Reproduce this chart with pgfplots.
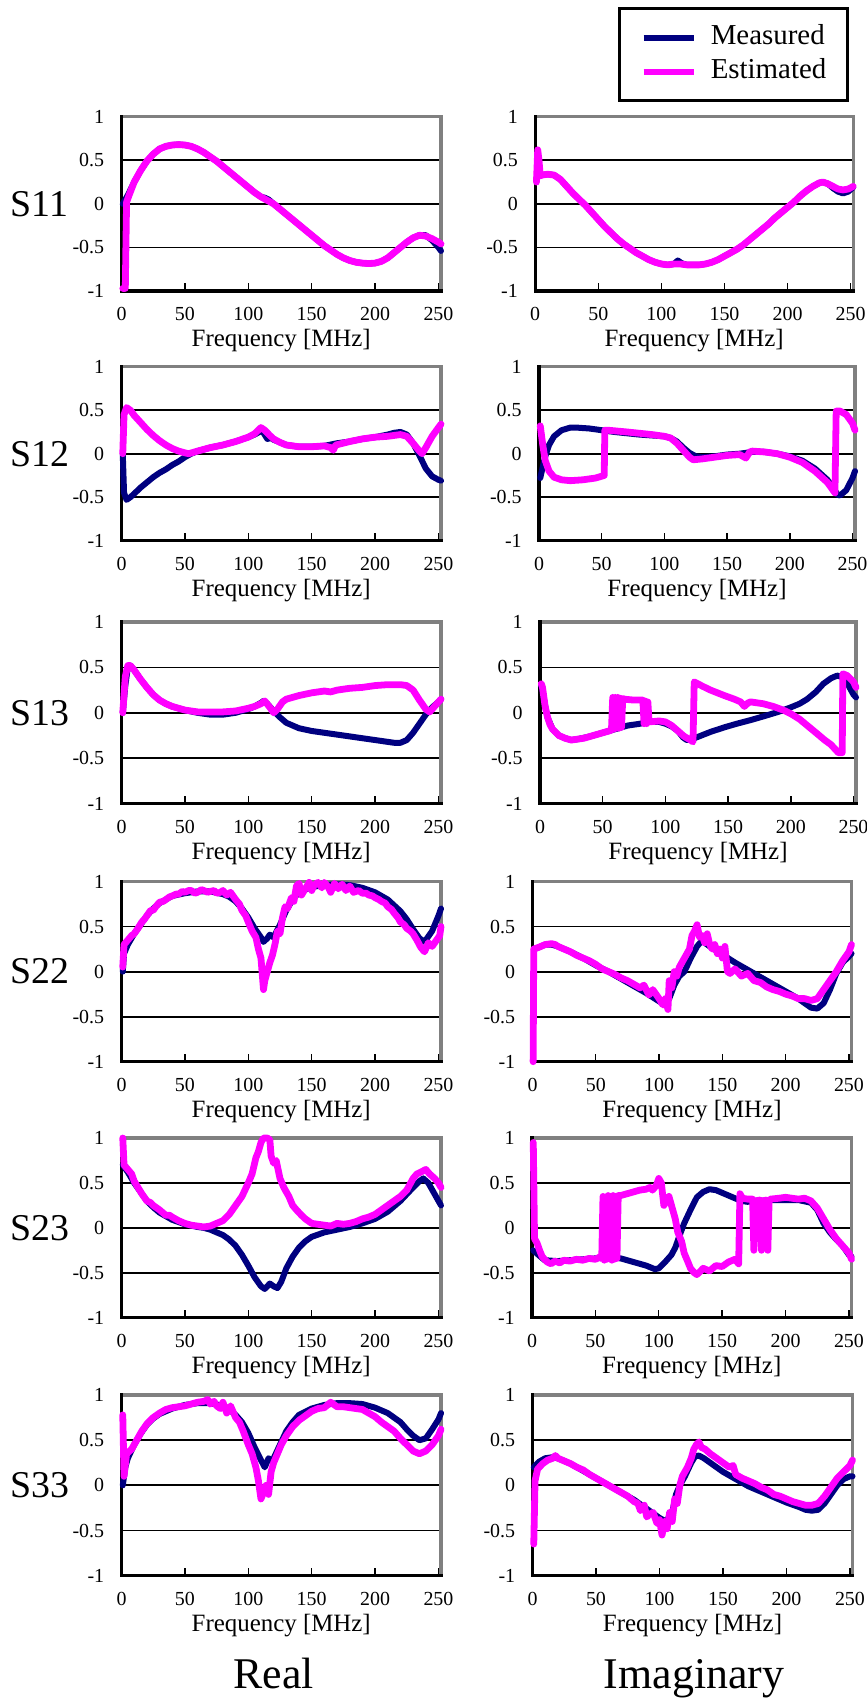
\documentclass[border=0pt]{standalone}
\usepackage{fontspec}
\setmainfont{Liberation Serif}
\usepackage{pgfplots}
\pgfplotsset{compat=1.18}
\definecolor{navy}{RGB}{0,0,128}
\definecolor{mag}{RGB}{255,0,255}
\definecolor{framegray}{RGB}{128,128,128}
\pgfplotsset{
 sp/.style={
  scale only axis, anchor=north west,
  xmin=0, xmax=252, ymin=-1, ymax=1,
  axis line style={draw=framegray, line width=1.7bp},
  xtick={0,50,100,150,200,250}, xticklabels={0,50,100,150,200,250},
  ytick={-1,-0.5,0,0.5,1}, yticklabels={-1,-0.5,0,0.5,1},
  xtick pos=left, ytick pos=left,
  tick align=inside, major tick length=4bp,
  xtick style={draw=black, line width=0.7bp},
  ytick style={draw=none},
  ymajorgrids, major grid style={black, line width=0.9bp},
  tick label style={font=\fontsize{10}{12}\selectfont},
  xticklabel style={anchor=north, inner sep=0pt, yshift=-8bp},
  yticklabel style={anchor=east, inner sep=0pt, xshift=-8.5bp},
  xlabel={Frequency [MHz]},
  xlabel style={font=\fontsize{12.5}{14}\selectfont, at={(axis description cs:0.5,0)}, anchor=north, inner sep=0pt, yshift=-19bp},
  clip=false,
 },
 meas/.style={navy, line width=3bp, line join=round, line cap=round, mark=none},
 est/.style={mag, line width=3.4bp, line join=round, line cap=round, mark=none},
}
\newcommand{\fr}{\draw[black, line width=1.7bp, line cap=rect] (rel axis cs:0,1) -- (rel axis cs:0,0) -- (rel axis cs:1,0);}
\newcommand{\rl}[1]{\node[font=\fontsize{19}{21}\selectfont, anchor=center, xshift=-41bp] at (rel axis cs:0,0.5) {#1};}
\begin{document}
\begin{tikzpicture}
\useasboundingbox (0,0) rectangle (433.5bp,-849.5bp);
%================ Row 1: S11
\begin{axis}[sp, at={(60.75bp,-58.35bp)}, width=159.75bp, height=87.15bp]
\fr \rl{S11}
\addplot[meas] coordinates {(1,0.0)(5,0.1)(10,0.25)(15,0.38)(20,0.49)(25,0.57)(30,0.63)(35,0.66)(40,0.675)(45,0.68)(50,0.675)(55,0.66)(60,0.63)(65,0.59)(70,0.54)(75,0.49)(80,0.43)(85,0.37)(90,0.31)(95,0.25)(100,0.19)(105,0.13)(110,0.08)(113,0.07)(116,0.05)(120,0.0)(125,-0.06)(130,-0.12)(135,-0.18)(140,-0.24)(145,-0.3)(150,-0.36)(155,-0.42)(160,-0.48)(165,-0.53)(170,-0.58)(175,-0.62)(180,-0.65)(185,-0.67)(190,-0.68)(195,-0.685)(200,-0.68)(205,-0.66)(210,-0.62)(215,-0.56)(220,-0.5)(225,-0.44)(230,-0.39)(235,-0.36)(240,-0.36)(245,-0.42)(250,-0.5)(252,-0.54)};
\addplot[est] coordinates {(1,-0.97)(3,-0.97)(4,0.02)(6,0.1)(10,0.25)(15,0.38)(20,0.49)(25,0.57)(30,0.63)(35,0.66)(40,0.675)(45,0.68)(50,0.675)(55,0.66)(60,0.63)(65,0.59)(70,0.54)(75,0.49)(80,0.43)(85,0.37)(90,0.31)(95,0.25)(100,0.19)(105,0.13)(110,0.08)(115,0.04)(120,0.0)(125,-0.06)(130,-0.12)(135,-0.18)(140,-0.24)(145,-0.3)(150,-0.36)(155,-0.42)(160,-0.48)(165,-0.53)(170,-0.58)(175,-0.62)(180,-0.65)(185,-0.67)(190,-0.68)(195,-0.685)(200,-0.68)(205,-0.66)(210,-0.62)(215,-0.56)(220,-0.5)(225,-0.44)(230,-0.39)(235,-0.36)(240,-0.37)(245,-0.4)(250,-0.44)(252,-0.46)};
\end{axis}
\begin{axis}[sp, at={(267.6bp,-58.35bp)}, width=159bp, height=87.15bp,
  legend style={at={(axis description cs:0.26,1.628)}, anchor=north west, draw=black, line width=1.5bp,
   font=\fontsize{14.5}{17}\selectfont, inner xsep=10.5bp, inner ysep=8bp, row sep=4bp, column sep=7bp,
   nodes={inner sep=0pt, text height=10bp, text depth=3bp}},
  legend cell align=left,
  legend image code/.code={\draw[#1, line width=3.2bp, line cap=butt] (0bp,0bp) -- (25bp,0bp);}]
\fr
\addplot[meas] coordinates {(1,0.3)(5,0.33)(10,0.34)(15,0.33)(20,0.28)(25,0.2)(30,0.12)(35,0.05)(40,-0.02)(45,-0.1)(50,-0.18)(55,-0.26)(60,-0.33)(65,-0.4)(70,-0.46)(75,-0.51)(80,-0.56)(85,-0.6)(90,-0.64)(95,-0.67)(100,-0.69)(105,-0.7)(110,-0.69)(113,-0.65)(116,-0.68)(120,-0.7)(125,-0.7)(130,-0.7)(135,-0.69)(140,-0.67)(145,-0.64)(150,-0.6)(155,-0.56)(160,-0.52)(165,-0.47)(170,-0.41)(175,-0.35)(180,-0.29)(185,-0.23)(190,-0.16)(195,-0.1)(200,-0.04)(205,0.02)(210,0.09)(215,0.15)(220,0.2)(225,0.24)(228,0.25)(232,0.23)(236,0.18)(240,0.14)(244,0.12)(248,0.14)(252,0.19)};
\addlegendentry{Measured}
\addplot[est] coordinates {(1,0.25)(2,0.62)(3,0.5)(4,0.32)(5,0.33)(10,0.34)(15,0.33)(20,0.28)(25,0.2)(30,0.12)(35,0.05)(40,-0.02)(45,-0.1)(50,-0.18)(55,-0.26)(60,-0.33)(65,-0.4)(70,-0.46)(75,-0.51)(80,-0.56)(85,-0.6)(90,-0.64)(95,-0.67)(100,-0.69)(105,-0.7)(110,-0.69)(115,-0.69)(120,-0.7)(125,-0.7)(130,-0.7)(135,-0.69)(140,-0.67)(145,-0.64)(150,-0.6)(155,-0.56)(160,-0.52)(165,-0.47)(170,-0.41)(175,-0.35)(180,-0.29)(185,-0.23)(190,-0.16)(195,-0.1)(200,-0.04)(205,0.02)(210,0.09)(215,0.15)(220,0.2)(225,0.24)(228,0.25)(232,0.23)(236,0.2)(240,0.17)(244,0.16)(248,0.17)(252,0.2)};
\addlegendentry{Estimated}
\end{axis}
%================ Row 2: S12
\begin{axis}[sp, at={(60.75bp,-183.35bp)}, width=159.75bp, height=87bp]
\fr \rl{S12}
\addplot[meas] coordinates {(1,0)(2,-0.45)(4,-0.53)(7,-0.5)(10,-0.46)(15,-0.39)(20,-0.33)(25,-0.27)(30,-0.22)(35,-0.18)(40,-0.13)(45,-0.09)(50,-0.04)(55,0.0)(60,0.03)(70,0.07)(80,0.1)(90,0.14)(100,0.19)(105,0.22)(110,0.26)(112,0.24)(115,0.17)(118,0.18)(120,0.16)(125,0.13)(130,0.1)(140,0.08)(150,0.08)(160,0.09)(170,0.12)(180,0.14)(190,0.17)(200,0.19)(210,0.22)(215,0.24)(220,0.25)(225,0.22)(230,0.12)(235,-0.02)(240,-0.17)(245,-0.26)(250,-0.3)(252,-0.31)};
\addplot[est] coordinates {(1,0)(2,0.45)(4,0.53)(7,0.5)(10,0.44)(15,0.36)(20,0.28)(25,0.21)(30,0.15)(35,0.1)(40,0.06)(45,0.03)(50,0.01)(53,0.0)(60,0.03)(70,0.07)(80,0.1)(90,0.14)(100,0.19)(105,0.23)(110,0.3)(113,0.27)(117,0.21)(120,0.17)(125,0.13)(130,0.1)(140,0.08)(150,0.08)(160,0.09)(165,0.07)(167,0.04)(169,0.1)(180,0.14)(190,0.17)(200,0.19)(210,0.2)(215,0.21)(220,0.22)(225,0.2)(230,0.12)(235,0.03)(237,0.0)(240,0.07)(245,0.2)(250,0.3)(252,0.34)};
\end{axis}
\begin{axis}[sp, at={(269.5bp,-183.35bp)}, width=158bp, height=87bp]
\fr
\addplot[meas] coordinates {(1,-0.28)(3,-0.15)(5,-0.03)(8,0.1)(12,0.2)(18,0.27)(25,0.3)(30,0.3)(40,0.29)(50,0.27)(60,0.25)(80,0.22)(100,0.2)(105,0.18)(110,0.14)(115,0.07)(120,0.01)(125,-0.03)(130,-0.04)(140,-0.03)(150,-0.01)(160,0.0)(170,0.02)(180,0.02)(190,0.0)(200,-0.03)(210,-0.08)(220,-0.17)(230,-0.3)(235,-0.4)(238,-0.47)(240,-0.48)(245,-0.42)(250,-0.28)(252,-0.2)};
\addplot[est] coordinates {(1,0.32)(3,0.1)(5,-0.08)(8,-0.2)(12,-0.27)(18,-0.3)(25,-0.31)(35,-0.3)(45,-0.28)(52,-0.25)(52.5,0.27)(55,0.27)(70,0.25)(90,0.22)(100,0.2)(105,0.18)(110,0.12)(115,0.04)(120,-0.04)(123,-0.07)(130,-0.06)(140,-0.04)(150,-0.02)(160,-0.01)(165,-0.05)(168,0.02)(170,0.03)(180,0.02)(190,0.0)(200,-0.04)(210,-0.1)(220,-0.2)(230,-0.33)(236,-0.45)(237,0.49)(240,0.49)(245,0.45)(250,0.35)(252,0.27)};
\end{axis}
%================ Row 3: S13
\begin{axis}[sp, at={(60.75bp,-311bp)}, width=159.75bp, height=90.8bp]
\fr \rl{S13}
\addplot[meas] coordinates {(1,0)(3,0.3)(5,0.5)(7,0.52)(10,0.47)(15,0.37)(20,0.28)(25,0.2)(30,0.14)(35,0.1)(40,0.07)(50,0.03)(60,0.0)(70,-0.02)(80,-0.02)(90,0.0)(100,0.04)(105,0.07)(110,0.11)(112,0.13)(115,0.1)(120,0.02)(125,-0.05)(130,-0.11)(140,-0.17)(150,-0.2)(160,-0.22)(170,-0.24)(180,-0.26)(190,-0.28)(200,-0.3)(210,-0.32)(215,-0.33)(220,-0.33)(225,-0.3)(230,-0.22)(235,-0.12)(240,-0.02)(245,0.06)(250,0.12)(252,0.15)};
\addplot[est] coordinates {(1,0.0)(3,0.4)(5,0.52)(7,0.52)(10,0.47)(15,0.37)(20,0.28)(25,0.2)(30,0.14)(35,0.1)(40,0.07)(50,0.03)(60,0.01)(70,0.01)(80,0.01)(90,0.02)(100,0.05)(105,0.07)(110,0.1)(113,0.13)(117,0.06)(120,0.0)(123,0.04)(127,0.12)(130,0.15)(140,0.19)(150,0.22)(160,0.24)(165,0.23)(170,0.25)(180,0.27)(190,0.28)(200,0.3)(210,0.31)(220,0.31)(225,0.3)(230,0.25)(235,0.14)(240,0.04)(243,0.01)(245,0.04)(250,0.12)(252,0.15)};
\end{axis}
\begin{axis}[sp, at={(270bp,-311bp)}, width=158bp, height=90.8bp]
\fr
\addplot[meas] coordinates {(1,0.3)(2,0.25)(4,0.08)(6,-0.05)(10,-0.18)(15,-0.25)(20,-0.28)(25,-0.3)(30,-0.29)(40,-0.26)(50,-0.22)(60,-0.18)(70,-0.14)(80,-0.12)(85,-0.1)(90,-0.1)(95,-0.1)(100,-0.12)(105,-0.15)(110,-0.2)(114,-0.27)(117,-0.3)(121,-0.29)(125,-0.27)(136,-0.21)(147,-0.16)(157,-0.12)(168,-0.08)(178,-0.04)(190,0.01)(200,0.06)(207,0.1)(213,0.15)(220,0.23)(226,0.32)(232,0.38)(237,0.41)(242,0.39)(246,0.3)(250,0.2)(252,0.17)};
\addplot[est] coordinates {(1,0.32)(2,0.28)(4,0.08)(6,-0.05)(8,-0.13)(10,-0.18)(15,-0.25)(20,-0.28)(25,-0.3)(30,-0.29)(35,-0.28)(40,-0.26)(45,-0.24)(50,-0.22)(55,-0.2)(57,-0.19)(58,0.17)(59,-0.18)(60,0.17)(61,-0.17)(62,0.17)(63,-0.17)(64,0.16)(65,-0.16)(66,0.16)(67,0.15)(75,0.14)(82,0.14)(83,-0.12)(84,0.13)(85,-0.12)(86,0.12)(87,-0.1)(95,-0.09)(100,-0.1)(105,-0.14)(110,-0.2)(115,-0.26)(120,-0.3)(122,-0.32)(123,0.34)(130,0.29)(136,0.25)(147,0.19)(155,0.15)(160,0.12)(163,0.07)(166,0.11)(168,0.12)(178,0.1)(186,0.07)(194,0.03)(200,-0.01)(207,-0.07)(214,-0.15)(221,-0.23)(227,-0.3)(232,-0.35)(236,-0.41)(238,-0.44)(241,-0.44)(241.5,0.43)(245,0.41)(250,0.34)(252,0.28)};
\end{axis}
%================ Row 4: S22
\begin{axis}[sp, at={(60.75bp,-440.75bp)}, width=159.75bp, height=90.1bp]
\fr \rl{S22}
\addplot[meas] coordinates {(1,0.0)(2,0.2)(5,0.3)(10,0.42)(15,0.52)(20,0.62)(25,0.7)(30,0.76)(35,0.8)(40,0.84)(50,0.87)(60,0.89)(70,0.89)(80,0.86)(85,0.83)(90,0.78)(95,0.7)(100,0.6)(105,0.48)(110,0.38)(112,0.33)(115,0.37)(117,0.41)(120,0.38)(125,0.52)(130,0.68)(135,0.8)(140,0.88)(150,0.94)(160,0.96)(170,0.97)(180,0.96)(190,0.93)(200,0.88)(210,0.8)(220,0.67)(225,0.58)(230,0.47)(235,0.37)(239,0.33)(245,0.45)(250,0.62)(252,0.7)};
\addplot[est] coordinates {(1,0.05)(2,0.3)(5,0.35)(8,0.4)(10,0.42)(13,0.48)(16,0.55)(18,0.58)(20,0.62)(23,0.68)(25,0.68)(27,0.72)(30,0.77)(33,0.78)(35,0.8)(38,0.83)(40,0.84)(43,0.86)(45,0.86)(48,0.89)(50,0.88)(53,0.9)(55,0.9)(58,0.87)(60,0.88)(63,0.91)(65,0.9)(68,0.88)(70,0.89)(73,0.9)(75,0.87)(78,0.88)(80,0.9)(83,0.85)(86,0.88)(88,0.84)(90,0.8)(93,0.75)(95,0.68)(98,0.62)(100,0.55)(103,0.45)(106,0.38)(108,0.25)(110,0.15)(112,-0.2)(113,-0.1)(115,0.0)(117,0.1)(119,0.18)(121,0.3)(123,0.45)(125,0.42)(127,0.6)(129,0.72)(131,0.7)(134,0.82)(136,0.78)(138,0.95)(140,0.98)(142,0.85)(145,0.92)(148,0.99)(150,0.9)(152,0.96)(155,0.99)(158,0.93)(160,0.99)(163,0.94)(165,0.88)(168,0.98)(171,0.92)(174,0.97)(177,0.9)(180,0.95)(183,0.88)(187,0.9)(190,0.87)(193,0.87)(195,0.85)(198,0.84)(200,0.82)(203,0.8)(205,0.78)(208,0.76)(210,0.72)(213,0.69)(215,0.65)(218,0.6)(220,0.55)(223,0.52)(225,0.48)(228,0.45)(230,0.42)(233,0.35)(236,0.27)(239,0.22)(242,0.32)(245,0.28)(248,0.34)(251,0.4)(252,0.5)};
\end{axis}
\begin{axis}[sp, at={(266.25bp,-440.75bp)}, width=159.5bp, height=90.1bp]
\fr
\addplot[meas] coordinates {(1,0.25)(5,0.27)(10,0.3)(15,0.3)(20,0.28)(30,0.22)(40,0.15)(50,0.07)(60,0.0)(70,-0.08)(80,-0.16)(90,-0.24)(100,-0.33)(105,-0.37)(108,-0.3)(112,-0.15)(116,-0.05)(120,0.0)(125,0.15)(130,0.28)(133,0.33)(135,0.33)(140,0.28)(150,0.19)(160,0.1)(170,0.02)(180,-0.06)(190,-0.14)(200,-0.22)(210,-0.3)(215,-0.35)(220,-0.4)(225,-0.41)(230,-0.35)(235,-0.2)(240,-0.02)(245,0.1)(250,0.17)(252,0.2)};
\addplot[est] coordinates {(0.5,-1)(1,0.25)(5,0.27)(10,0.3)(15,0.31)(18,0.3)(20,0.28)(25,0.25)(30,0.22)(35,0.18)(40,0.15)(45,0.12)(50,0.08)(55,0.03)(60,0.0)(65,-0.03)(70,-0.07)(75,-0.1)(80,-0.14)(85,-0.18)(88,-0.15)(92,-0.26)(95,-0.2)(100,-0.3)(103,-0.37)(105,-0.3)(107,-0.42)(108,-0.1)(110,-0.18)(112,0.0)(114,-0.05)(116,0.05)(118,0.1)(120,0.15)(122,0.2)(124,0.25)(126,0.4)(128,0.45)(130,0.52)(132,0.38)(134,0.4)(136,0.32)(138,0.42)(140,0.3)(142,0.25)(144,0.3)(146,0.2)(148,0.25)(150,0.15)(152,0.28)(154,0.0)(156,-0.02)(160,0.03)(165,-0.05)(170,-0.02)(175,-0.1)(180,-0.12)(185,-0.17)(190,-0.2)(195,-0.22)(200,-0.25)(205,-0.27)(210,-0.3)(215,-0.3)(220,-0.32)(225,-0.3)(230,-0.2)(235,-0.1)(240,0.0)(245,0.12)(250,0.22)(252,0.3)};
\end{axis}
%================ Row 5: S23
\begin{axis}[sp, at={(60.75bp,-569bp)}, width=159.75bp, height=89.85bp]
\fr \rl{S23}
\addplot[meas] coordinates {(1,0.7)(5,0.62)(10,0.5)(15,0.4)(20,0.3)(25,0.23)(30,0.17)(40,0.09)(50,0.04)(60,0.01)(65,0.0)(70,-0.02)(75,-0.05)(80,-0.08)(85,-0.13)(90,-0.2)(95,-0.3)(100,-0.42)(105,-0.55)(110,-0.65)(113,-0.68)(117,-0.62)(120,-0.65)(123,-0.67)(126,-0.6)(130,-0.45)(135,-0.32)(140,-0.22)(145,-0.15)(150,-0.1)(160,-0.05)(170,-0.02)(180,0.01)(190,0.05)(200,0.1)(210,0.18)(220,0.3)(230,0.45)(235,0.52)(238,0.55)(242,0.5)(246,0.4)(250,0.3)(252,0.25)};
\addplot[est] coordinates {(1,1.0)(2,0.7)(5,0.65)(8,0.6)(10,0.52)(13,0.45)(16,0.38)(20,0.3)(23,0.28)(25,0.25)(28,0.22)(30,0.2)(35,0.14)(38,0.14)(40,0.12)(45,0.08)(50,0.05)(55,0.03)(60,0.02)(65,0.01)(70,0.02)(75,0.05)(80,0.08)(85,0.15)(90,0.25)(95,0.35)(100,0.5)(103,0.6)(106,0.78)(108,0.85)(110,0.95)(112,1.0)(115,1.0)(117,0.98)(118,0.8)(120,0.72)(122,0.75)(125,0.55)(128,0.45)(132,0.35)(135,0.25)(138,0.2)(142,0.14)(145,0.1)(150,0.05)(155,0.04)(160,0.03)(165,0.02)(170,0.05)(175,0.04)(180,0.05)(185,0.07)(190,0.1)(195,0.12)(200,0.15)(205,0.2)(210,0.25)(215,0.3)(220,0.35)(225,0.42)(230,0.55)(233,0.6)(236,0.62)(240,0.65)(243,0.6)(247,0.55)(250,0.5)(252,0.45)};
\end{axis}
\begin{axis}[sp, at={(266bp,-569bp)}, width=159.75bp, height=89.85bp]
\fr
\addplot[meas] coordinates {(1,-0.25)(5,-0.3)(10,-0.36)(20,-0.37)(30,-0.36)(40,-0.35)(50,-0.34)(60,-0.33)(65,-0.33)(70,-0.34)(80,-0.38)(90,-0.42)(97,-0.46)(100,-0.45)(105,-0.38)(110,-0.3)(113,-0.22)(116,-0.1)(120,0.05)(125,0.2)(130,0.34)(135,0.4)(140,0.43)(145,0.42)(150,0.39)(155,0.36)(160,0.33)(165,0.3)(170,0.29)(175,0.3)(180,0.3)(190,0.31)(200,0.31)(210,0.31)(220,0.28)(225,0.2)(230,0.05)(235,-0.05)(240,-0.13)(245,-0.2)(250,-0.3)(252,-0.32)};
\addplot[est] coordinates {(1,0.95)(2,-0.12)(4,-0.17)(6,-0.25)(8,-0.32)(12,-0.38)(15,-0.4)(18,-0.37)(22,-0.39)(25,-0.36)(30,-0.37)(35,-0.35)(40,-0.36)(45,-0.34)(50,-0.35)(54,-0.32)(55,-0.34)(56,0.35)(57,-0.36)(58,0.34)(59,-0.35)(60,0.36)(61,-0.34)(62,0.35)(63,-0.36)(64,0.36)(65,-0.35)(66,0.35)(67,-0.34)(68,0.36)(70,0.36)(75,0.38)(80,0.4)(85,0.42)(90,0.43)(93,0.45)(95,0.42)(98,0.47)(100,0.55)(102,0.5)(104,0.25)(106,0.3)(108,0.35)(110,0.25)(113,0.1)(115,-0.05)(118,-0.15)(120,-0.28)(123,-0.38)(125,-0.45)(128,-0.5)(130,-0.52)(133,-0.48)(135,-0.45)(140,-0.48)(145,-0.42)(150,-0.43)(155,-0.38)(160,-0.35)(163,-0.4)(164,0.38)(166,0.33)(170,0.32)(174,0.32)(175,-0.25)(176,0.3)(180,0.31)(181,-0.25)(182,0.3)(185,0.31)(186,-0.25)(187,0.3)(188,0.32)(195,0.33)(200,0.34)(205,0.33)(210,0.32)(215,0.33)(220,0.3)(225,0.22)(230,0.1)(235,-0.02)(240,-0.12)(245,-0.2)(250,-0.28)(252,-0.35)};
\end{axis}
%================ Row 6: S33
\begin{axis}[sp, at={(60.75bp,-697.5bp)}, width=159.75bp, height=90.35bp]
\fr \rl{S33}
\addplot[meas] coordinates {(1,0.0)(3,0.2)(5,0.3)(10,0.45)(15,0.57)(20,0.67)(25,0.74)(30,0.79)(40,0.85)(50,0.89)(60,0.91)(70,0.91)(80,0.88)(85,0.84)(90,0.78)(95,0.7)(100,0.58)(105,0.42)(110,0.28)(113,0.2)(116,0.3)(118,0.28)(120,0.3)(125,0.45)(130,0.6)(135,0.7)(140,0.78)(150,0.85)(160,0.89)(170,0.91)(180,0.91)(190,0.9)(200,0.86)(210,0.8)(220,0.7)(225,0.62)(230,0.55)(235,0.5)(240,0.52)(245,0.62)(250,0.73)(252,0.8)};
\addplot[est] coordinates {(1,0.78)(2,0.1)(4,0.35)(8,0.4)(12,0.5)(16,0.6)(20,0.68)(25,0.75)(30,0.8)(35,0.84)(40,0.86)(45,0.87)(50,0.88)(55,0.9)(60,0.92)(65,0.93)(68,0.95)(70,0.9)(73,0.93)(75,0.88)(78,0.85)(80,0.92)(83,0.8)(86,0.88)(90,0.75)(93,0.7)(96,0.6)(100,0.45)(103,0.35)(106,0.2)(108,0.05)(110,-0.15)(112,-0.08)(114,0.0)(116,-0.1)(118,0.15)(120,0.25)(123,0.35)(126,0.45)(130,0.55)(135,0.65)(140,0.72)(145,0.77)(150,0.82)(155,0.85)(160,0.86)(165,0.92)(170,0.87)(175,0.87)(180,0.86)(185,0.85)(190,0.84)(195,0.8)(200,0.76)(205,0.7)(210,0.65)(215,0.6)(220,0.52)(225,0.45)(230,0.38)(235,0.35)(240,0.38)(245,0.45)(250,0.55)(252,0.62)};
\end{axis}
\begin{axis}[sp, at={(266.25bp,-697.5bp)}, width=160bp, height=90.35bp]
\fr
\addplot[meas] coordinates {(1,0.2)(5,0.26)(10,0.3)(15,0.31)(20,0.3)(30,0.24)(40,0.16)(50,0.08)(60,0.0)(70,-0.08)(80,-0.16)(90,-0.26)(100,-0.36)(105,-0.4)(110,-0.3)(113,-0.1)(116,0.0)(120,0.1)(125,0.25)(128,0.32)(131,0.33)(135,0.3)(140,0.25)(150,0.15)(160,0.07)(170,-0.01)(180,-0.07)(190,-0.13)(200,-0.19)(210,-0.24)(215,-0.27)(220,-0.28)(225,-0.27)(230,-0.2)(235,-0.1)(240,0.0)(245,0.07)(250,0.1)(252,0.1)};
\addplot[est] coordinates {(1,-0.65)(2,0.05)(4,0.18)(8,0.24)(12,0.28)(16,0.3)(18,0.33)(20,0.3)(25,0.27)(30,0.24)(35,0.2)(40,0.17)(45,0.12)(50,0.08)(55,0.04)(60,0.0)(65,-0.04)(70,-0.08)(75,-0.12)(80,-0.18)(83,-0.2)(85,-0.28)(88,-0.22)(90,-0.35)(92,-0.32)(95,-0.3)(98,-0.42)(100,-0.38)(102,-0.55)(104,-0.4)(106,-0.48)(108,-0.3)(110,-0.4)(112,-0.15)(114,-0.2)(116,0.0)(118,0.1)(120,0.15)(122,0.2)(125,0.3)(127,0.4)(129,0.45)(131,0.48)(133,0.42)(136,0.4)(140,0.35)(145,0.3)(150,0.25)(155,0.2)(158,0.22)(160,0.12)(165,0.08)(170,0.05)(175,0.02)(180,-0.02)(185,-0.05)(190,-0.1)(195,-0.12)(200,-0.15)(205,-0.18)(210,-0.2)(215,-0.22)(220,-0.22)(225,-0.2)(230,-0.12)(235,-0.02)(240,0.08)(245,0.15)(250,0.22)(252,0.28)};
\end{axis}
%================ Column titles
\node[anchor=base, font=\fontsize{22}{24}\selectfont] at (136.9bp,-844bp) {Real};
\node[anchor=base, font=\fontsize{22}{24}\selectfont] at (347bp,-844bp) {Imaginary};
\end{tikzpicture}
\end{document}
